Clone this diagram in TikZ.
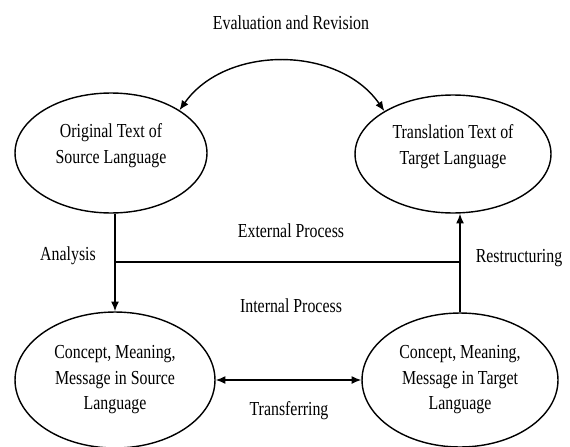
\documentclass[tikz,border=0pt]{standalone}
\usepackage{fontspec}
\setmainfont{Liberation Serif}[FakeStretch=0.8]
\usetikzlibrary{shapes.geometric,arrows.meta}
\tikzset{
  bubble/.style={draw, ellipse, line width=0.8pt, inner sep=0pt, align=center},
  link/.style={line width=0.8pt},
}
\begin{document}
\begin{tikzpicture}[x=0.02cm, y=-0.02cm, >={Latex[length=5.5pt,width=4.5pt]},
    font=\fontsize{11.3}{14.5}\selectfont]
      \useasboundingbox (0,0) rectangle (570,446);
      %
      \node[bubble, minimum width=3.84cm, minimum height=2.4cm] (orig) at (111,153)
        {Original Text of\\Source Language\rule[-11pt]{0pt}{0pt}};        % top left
      \node[bubble, minimum width=3.92cm, minimum height=2.36cm] (trans) at (453,154)
        {Translation Text of\\Target Language\rule[-11pt]{0pt}{0pt}};     % top right
      %
      \node[bubble, minimum width=4cm, minimum height=2.72cm] (srcmsg) at (115,380)
        {Concept, Meaning,\\Message in Source\\Language};                 % bottom left
      \node[bubble, minimum width=3.92cm, minimum height=2.68cm] (tgtmsg) at (460,380)
        {Concept, Meaning,\\Message in Target\\Language};                 % bottom right
      %
      \coordinate (split) at (0,262);                                      % process border
      %
      \draw[link, <->] (orig.32) to[bend left=55] (trans.148);            % revision loop
      \draw[link, ->] (srcmsg.north |- orig.south) -- (srcmsg.north);     % analysis
      \draw[link, ->] (tgtmsg.north) -- (tgtmsg.north |- trans.south);    % restructuring
      \draw[link] (srcmsg.north |- split) -- (tgtmsg.north |- split);
      \draw[link, <->] (srcmsg) -- (tgtmsg);                               % transfer
      %
      \node (evallbl) at (291,23) {Evaluation and Revision};
      \node (extlbl) at (291,231) {External Process};
      \node (intlbl) at (291,306) {Internal Process};
      \node (analbl) at (68,256) {Analysis};
      \node (restlbl) at (519,258) {Restructuring};
      \node (translbl) at (289,411) {Transferring};
      %
    \end{tikzpicture}
\end{document}
